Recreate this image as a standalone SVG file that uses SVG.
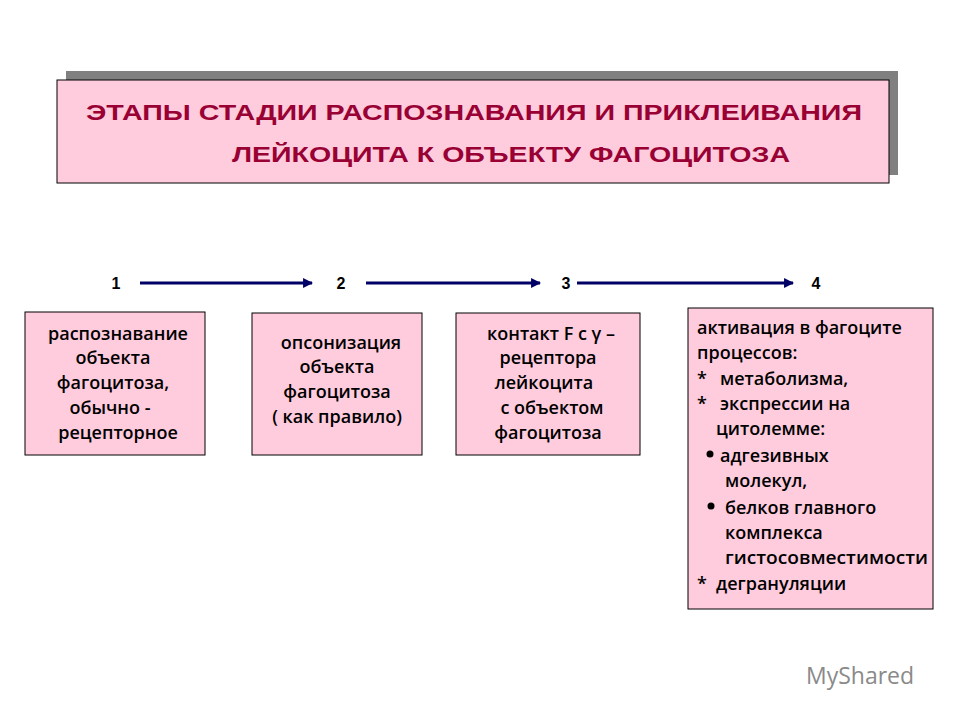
<svg xmlns="http://www.w3.org/2000/svg" width="960" height="720" viewBox="0 0 960 720">
<style>
.box{fill:#ffccdd;stroke:#000;stroke-width:1}
.t{font-family:"Open Sans","DejaVu Sans",sans-serif;font-weight:600;font-size:18px;fill:#000}
.c{text-anchor:middle}
.n{font-family:"Liberation Sans",sans-serif;font-weight:bold;font-size:16px;text-anchor:middle}
.h{font-family:"Liberation Sans",sans-serif;font-weight:bold;font-size:22px;fill:#990033}
.ar{stroke:#000066;stroke-width:3;fill:none;marker-end:url(#a)}
</style>
<defs><marker id="a" viewBox="0 0 10 10" refX="9" refY="5" markerWidth="4" markerHeight="3.3" orient="auto" markerUnits="strokeWidth"><path d="M0,0L10,5L0,10z" fill="#000066"/></marker></defs>
<rect width="960" height="720" fill="#fff"/>
<g id="title">
<rect x="66" y="71" width="832" height="104" fill="#808080"/>
<rect class="box" x="57" y="80" width="832" height="103"/>
<text class="h" x="86" y="120" textLength="776" lengthAdjust="spacingAndGlyphs">ЭТАПЫ СТАДИИ РАСПОЗНАВАНИЯ И ПРИКЛЕИВАНИЯ</text>
<text class="h" x="232" y="162" textLength="558" lengthAdjust="spacingAndGlyphs">ЛЕЙКОЦИТА К ОБЪЕКТУ ФАГОЦИТОЗА</text>
</g>
<g id="numbers">
<text class="n" x="116" y="289">1</text>
<text class="n" x="341" y="289">2</text>
<text class="n" x="566" y="289">3</text>
<text class="n" x="816" y="289">4</text>
</g>
<g id="connectors">
<line class="ar" x1="140" y1="283" x2="312" y2="283"/>
<line class="ar" x1="366" y1="283" x2="540" y2="283"/>
<line class="ar" x1="577" y1="283" x2="793" y2="283"/>
</g>
<g id="n1">
<rect class="box" x="25" y="312" width="180" height="143"/>
<text class="t c" x="118" y="340">распознавание</text>
<text class="t c" x="113" y="364">объекта</text>
<text class="t c" x="113" y="389">фагоцитоза,</text>
<text class="t c" x="110" y="414">обычно -</text>
<text class="t c" x="118" y="439">рецепторное</text>
</g>
<g id="n2">
<rect class="box" x="252" y="313" width="170" height="142"/>
<text class="t c" x="341" y="349">опсонизация</text>
<text class="t c" x="337" y="373">объекта</text>
<text class="t c" x="337" y="398">фагоцитоза</text>
<text class="t c" x="337" y="423">( как правило)</text>
</g>
<g id="n3">
<rect class="box" x="456" y="313" width="184" height="142"/>
<text class="t c" x="551" y="340">контакт F c γ –</text>
<text class="t c" x="548" y="364">рецептора</text>
<text class="t c" x="544" y="389">лейкоцита</text>
<text class="t c" x="552" y="414">с объектом</text>
<text class="t c" x="548" y="439">фагоцитоза</text>
</g>
<g id="n4">
<rect class="box" x="688" y="308" width="245" height="301"/>
<text class="t" x="697" y="334">активация в фагоците</text>
<text class="t" x="697" y="359">процессов:</text>
<text class="t" x="697" y="385">*<tspan x="720">метаболизма,</tspan></text>
<text class="t" x="697" y="410">*<tspan x="720">экспрессии на</tspan></text>
<text class="t" x="716" y="435">цитолемме:</text>
<circle cx="710" cy="454" r="3.5"/>
<text class="t" x="720" y="462">адгезивных</text>
<text class="t" x="725" y="487">молекул,</text>
<circle cx="711" cy="506" r="3.5"/>
<text class="t" x="725" y="514">белков главного</text>
<text class="t" x="725" y="539">комплекса</text>
<text class="t" x="725" y="564" textLength="203" lengthAdjust="spacingAndGlyphs">гистосовместимости</text>
<text class="t" x="697" y="590">*<tspan x="716">дегрануляции</tspan></text>
</g>
<text x="806" y="684" font-family="Open Sans, sans-serif" font-size="23" fill="#8a8a8a">MyShared</text>
</svg>
